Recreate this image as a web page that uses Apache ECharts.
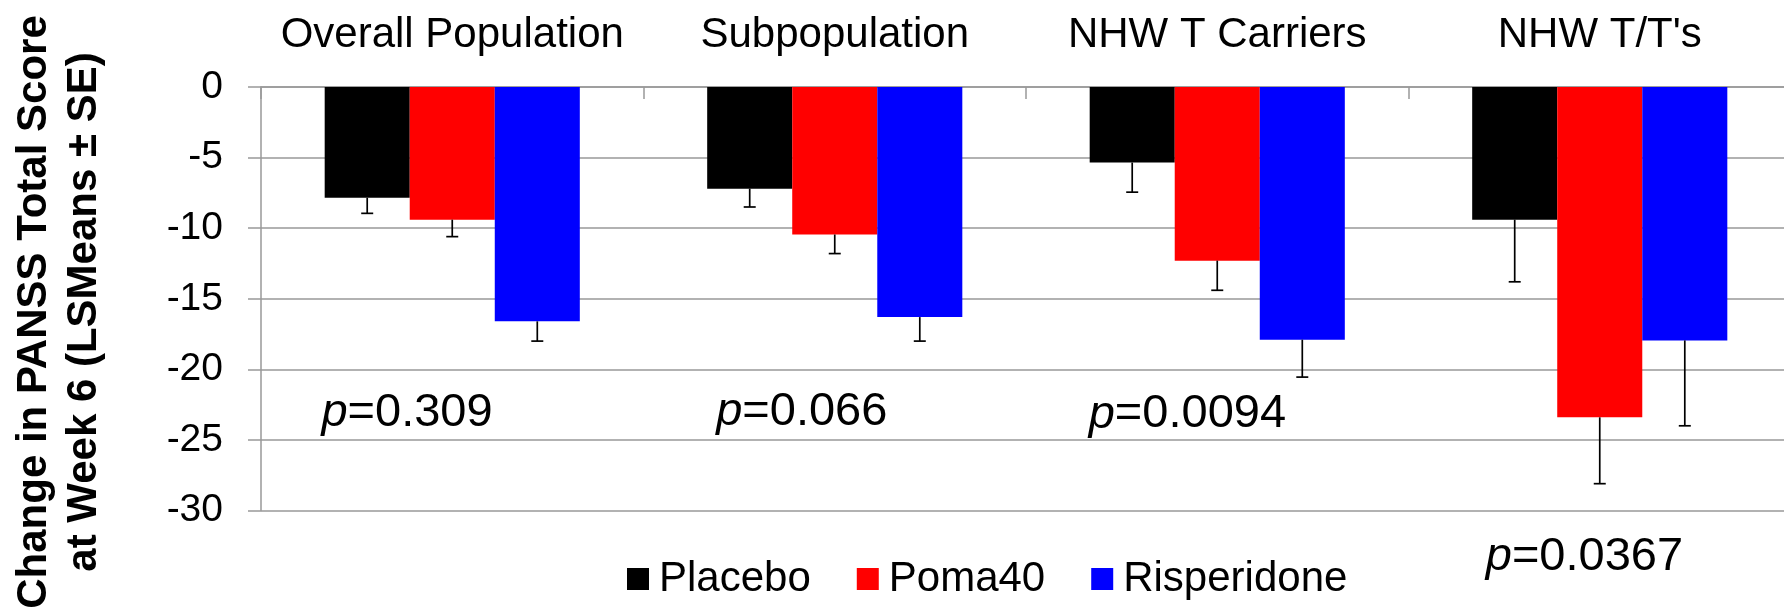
<!DOCTYPE html>
<html>
<head>
<meta charset="utf-8">
<script src="https://cdn.jsdelivr.net/npm/echarts@6/dist/echarts.min.js"></script>
<style>
html,body{margin:0;padding:0;overflow:hidden;background:#fff;}
#c{width:1800px;height:611px;}
</style>
</head>
<body>
<div id="c"></div>
<script>
// ---- data ----
var categories = ['Overall Population', 'Subpopulation', 'NHW T Carriers', "NHW T/T's"];
var seriesNames = ['Placebo', 'Poma40', 'Risperidone'];
var placebo = [-7.85, -7.2, -5.35, -9.4];
var poma40 = [-9.4, -10.45, -12.3, -23.4];
var risperidone = [-16.6, -16.3, -17.9, -17.95];
var placeboSE = [1.1, 1.3, 2.1, 4.4];
var poma40SE = [1.2, 1.35, 2.1, 4.7];
var risperidoneSE = [1.4, 1.7, 2.65, 6.05];
var pValues = ['0.309', '0.066', '0.0094', '0.0367'];
// annotation anchors: value-axis position and fraction across the category band
var pAnchor = [-23.1, -23.0, -23.2, -33.3];
var pAnchorBand = [0.158, 0.19, 0.164, 0.202];
var yTicks = { min: -30, max: 0, interval: 5 };

// ---- chart ----
var FONT = '"Liberation Sans", Arial, Helvetica, sans-serif';
var colors = ['#000000', '#ff0000', '#0000ff'];
var GAP = 0.333;
var values = [placebo, poma40, risperidone];
var ses = [placeboSE, poma40SE, risperidoneSE];

var chart = echarts.init(document.getElementById('c'), null, { renderer: 'canvas' });

var series = [];
seriesNames.forEach(function (name, i) {
  series.push({
    name: name,
    type: 'bar',
    data: values[i],
    barGap: '0%',
    barCategoryGap: (GAP * 100) + '%',
    itemStyle: { color: colors[i] },
    z: 2
  });
});
seriesNames.forEach(function (name, i) {
  series.push({
    name: name + ' SE',
    type: 'custom',
    z: 3,
    data: values[i].map(function (v, k) { return [k, v, ses[i][k]]; }),
    encode: { x: 0, y: 1 },
    renderItem: function (params, api) {
      var idx = api.value(0), v = api.value(1), se = api.value(2);
      var band = api.size([1, 0])[0];
      var bw = band * (1 - GAP) / 3;
      var top = api.coord([idx, v]);
      var bot = api.coord([idx, v - se]);
      var x = top[0] + (i - 1) * bw;
      var style = { stroke: '#000', lineWidth: 1.7 };
      return {
        type: 'group',
        children: [
          { type: 'line', shape: { x1: x, y1: top[1], x2: x, y2: bot[1] }, style: style },
          { type: 'line', shape: { x1: x - 6, y1: bot[1], x2: x + 6, y2: bot[1] }, style: style }
        ]
      };
    }
  });
});
series.push({
  name: 'p',
  type: 'custom',
  z: 4,
  clip: false,
  data: pValues.map(function (p, k) { return [k, pAnchor[k], p]; }),
  encode: { x: 0, y: 1 },
  renderItem: function (params, api) {
    var k = params.dataIndex;
    var idx = api.value(0), y = api.value(1);
    var band = api.size([1, 0])[0];
    var pt = api.coord([idx, y]);
    return {
      type: 'text',
      x: pt[0] - band / 2 + pAnchorBand[k] * band,
      y: pt[1],
      style: {
        text: '{i|p}=' + pValues[k],
        rich: { i: { fontStyle: 'italic', fontSize: 47, fontFamily: FONT, fill: '#000' } },
        fontSize: 47,
        fontFamily: FONT,
        fill: '#000',
        textAlign: 'left',
        textVerticalAlign: 'middle'
      }
    };
  }
});

var option = {
  animation: false,
  backgroundColor: '#fff',
  textStyle: { fontFamily: FONT },
  grid: { left: 261, right: 9, top: 87, bottom: 100.5, containLabel: false },
  legend: {
    data: seriesNames,
    left: 627,
    top: 558,
    padding: 0,
    icon: 'rect',
    itemWidth: 22,
    itemHeight: 22,
    itemGap: 46,
    textStyle: { fontSize: 42, color: '#000', fontFamily: FONT, padding: [0, 0, 0, 5] }
  },
  xAxis: {
    type: 'category',
    position: 'top',
    data: categories,
    axisLine: { show: true, lineStyle: { color: '#999', width: 1.5 } },
    axisTick: { show: true, inside: true, length: 12, lineStyle: { color: '#999', width: 1.5 } },
    axisLabel: { fontSize: 42, color: '#000', margin: 31, fontFamily: FONT, interval: 0 },
    splitLine: { show: false }
  },
  yAxis: {
    type: 'value',
    min: yTicks.min,
    max: yTicks.max,
    interval: yTicks.interval,
    axisLine: { show: true, lineStyle: { color: '#999', width: 1.5 } },
    axisTick: { show: true, length: 13, lineStyle: { color: '#999', width: 1.5 } },
    axisLabel: { fontSize: 39, color: '#000', margin: 38, fontFamily: FONT },
    splitLine: { show: true, lineStyle: { color: '#999', width: 1.5 } }
  },
  graphic: [{
    type: 'text',
    x: 59,
    y: 312,
    rotation: Math.PI / 2,
    style: {
      text: 'Change in PANSS Total Score\nat Week 6 (LSMeans \u00b1 SE)',
      fontSize: 42,
      fontWeight: 'bold',
      fontFamily: FONT,
      lineHeight: 50,
      fill: '#000',
      textAlign: 'center',
      textVerticalAlign: 'middle'
    }
  }],
  series: series
};
chart.setOption(option);
</script>
</body>
</html>
